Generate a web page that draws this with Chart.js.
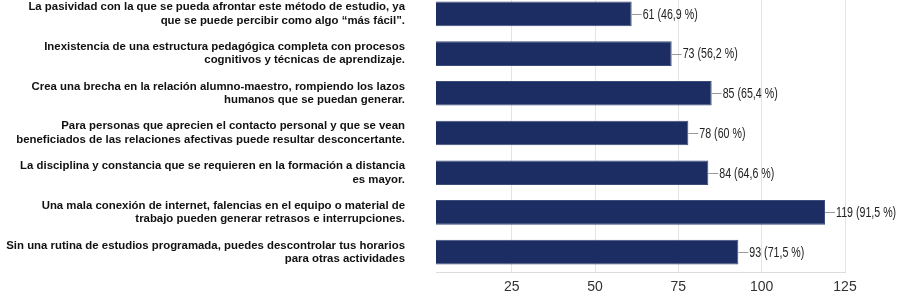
<!DOCTYPE html>
<html>
<head>
<meta charset="utf-8">
<script src="https://cdn.jsdelivr.net/npm/chart.js@4.4.0/dist/chart.umd.min.js"></script>
<style>
  html, body { margin: 0; padding: 0; background: #fff; overflow: hidden; }
  #wrap { position: relative; width: 898px; height: 306px; margin-top: -6px; }
</style>
</head>
<body>
<div id="wrap"><canvas id="grafica"></canvas></div>
<script>
// datos de la grafica
const categorias = [
    ['La pasividad con la que se pueda afrontar este método de estudio, ya', 'que se puede percibir como algo “más fácil”.'],
    ['Inexistencia de una estructura pedagógica completa con procesos', 'cognitivos y técnicas de aprendizaje.'],
    ['Crea una brecha en la relación alumno-maestro, rompiendo los lazos', 'humanos que se puedan generar.'],
    ['Para personas que aprecien el contacto personal y que se vean', 'beneficiados de las relaciones afectivas puede resultar desconcertante.'],
    ['La disciplina y constancia que se requieren en la formación a distancia', 'es mayor.'],
    ['Una mala conexión de internet, falencias en el equipo o material de', 'trabajo pueden generar retrasos e interrupciones.'],
    ['Sin una rutina de estudios programada, puedes descontrolar tus horarios', 'para otras actividades']
];
const respuestas = [61, 73, 85, 78, 84, 119, 93];
const porcentajes = ['46,9', '56,2', '65,4', '60', '64,6', '91,5', '71,5'];
const ticksX = [25, 50, 75, 100, 125];

const fuenteNarrow = '"Liberation Sans Narrow", "Liberation Sans", Arial, sans-serif';

// etiquetas con linea guia al final de cada barra
const etiquetasBarras = {
    id: 'etiquetasBarras',
    afterDatasetsDraw(chart) {
        const ctx = chart.ctx;
        const meta = chart.getDatasetMeta(0);
        ctx.save();
        meta.data.forEach((bar, i) => {
            const x = bar.x;
            const y = bar.y;
            ctx.strokeStyle = '#9a9a9a';
            ctx.lineWidth = 1;
            ctx.beginPath();
            ctx.moveTo(x, Math.round(y) + 0.5);
            ctx.lineTo(x + 10, Math.round(y) + 0.5);
            ctx.stroke();

            const texto = respuestas[i] + ' (' + porcentajes[i] + ' %)';
            ctx.save();
            ctx.translate(x + 11, y);
            ctx.scale(0.76, 1);
            ctx.font = '14px ' + fuenteNarrow;
            ctx.fillStyle = '#222222';
            ctx.textAlign = 'left';
            ctx.textBaseline = 'middle';
            ctx.fillText(texto, 0, 1);
            ctx.restore();
        });
        ctx.restore();
    }
};

function dibujarGrafica() {
    const ctx = document.getElementById('grafica').getContext('2d');
    new Chart(ctx, {
        type: 'bar',
        data: {
            labels: categorias,
            datasets: [{
                data: respuestas,
                backgroundColor: '#1b2d63',
                borderColor: '#3c4c7a',
                borderWidth: 1,
                categoryPercentage: 1,
                barPercentage: 0.62
            }]
        },
        options: {
            indexAxis: 'y',
            responsive: true,
            maintainAspectRatio: false,
            animation: false,
            layout: { padding: { top: 0, right: 53, bottom: 0, left: 0 } },
            scales: {
                x: {
                    min: 2.3,
                    max: 125,
                    afterBuildTicks: (scale) => {
                        scale.ticks = ticksX.map(v => ({ value: v }));
                    },
                    afterFit: (scale) => {
                        scale.height = 28;
                        scale.paddingLeft = 0;
                        scale.paddingRight = 0;
                    },
                    grid: { color: '#e4e4e4', drawTicks: false },
                    border: { display: true, color: '#dcdcdc' },
                    ticks: {
                        padding: 7,
                        color: '#333333',
                        font: { family: fuenteNarrow, size: 14 }
                    }
                },
                y: {
                    afterFit: (scale) => {
                        scale.width = 436;
                        scale.paddingTop = 0;
                        scale.paddingBottom = 0;
                    },
                    grid: { display: false, drawTicks: false },
                    border: { display: false },
                    ticks: {
                        padding: 31,
                        color: '#111111',
                        autoSkip: false,
                        font: { family: '"Liberation Sans", Arial, sans-serif', size: 11.4, weight: 'bold', lineHeight: 13.5 / 11.4 }
                    }
                }
            },
            plugins: {
                legend: { display: false },
                title: { display: false },
                tooltip: { enabled: false }
            }
        },
        plugins: [etiquetasBarras]
    });
}

document.addEventListener('DOMContentLoaded', dibujarGrafica);
</script>
</body>
</html>
